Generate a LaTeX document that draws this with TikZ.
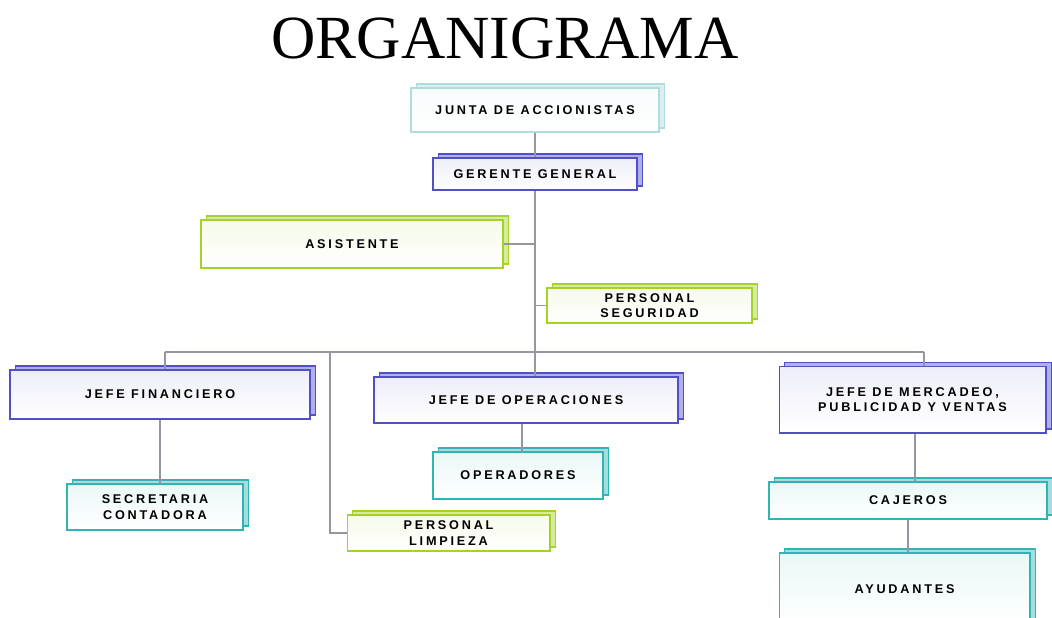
\documentclass[tikz,border=0pt]{standalone}
\usepackage{fontspec}
\setmainfont{Liberation Serif}
\newfontfamily\bxfont[LetterSpace=22]{Liberation Sans}
\usetikzlibrary{shadows}
\definecolor{cblue}{RGB}{80,80,200}
\definecolor{cgreen}{RGB}{165,210,40}
\definecolor{cteal}{RGB}{50,180,180}
\definecolor{ccyan}{RGB}{175,220,220}
\definecolor{cline}{RGB}{150,150,160}
\tikzset{
  orgbox/.style={draw=#1, line width=1pt, top color=#1!10, bottom color=white,
    general shadow={shadow xshift=4pt, shadow yshift=3pt, fill=#1!45!white, draw=#1, line width=1pt},
    inner sep=1pt, align=center, font=\bxfont\bfseries\fontsize{9.5}{11.5}\selectfont, text=black},
  conn/.style={draw=cline, line width=1.1pt}
}
\begin{document}
\begin{tikzpicture}[x=0.75pt, y=-0.75pt]
\useasboundingbox (0,0) rectangle (1052,617);
\node[font=\fontsize{46}{50}\selectfont] (title) at (505,38) {ORGANIGRAMA};

\node[orgbox=ccyan, minimum width=186pt, minimum height=33pt] (junta) at (535,110) {JUNTA DE ACCIONISTAS};
\node[orgbox=cblue, minimum width=153pt, minimum height=24pt] (gerente) at (535,174) {GERENTE GENERAL};
\node[orgbox=cgreen, minimum width=226.5pt, minimum height=36pt] (asistente) at (352,244) {ASISTENTE};
\node[orgbox=cgreen, minimum width=153.75pt, minimum height=26.25pt] (seguridad) at (649.5,305.5) {PERSONAL\\SEGURIDAD};
\node[orgbox=cblue, minimum width=225pt, minimum height=36.75pt] (financiero) at (160,394.5) {JEFE FINANCIERO};
\node[orgbox=cblue, minimum width=228pt, minimum height=34.5pt] (operaciones) at (526,400) {JEFE DE OPERACIONES};
\node[orgbox=cblue, minimum width=200pt, minimum height=50pt] (mercadeo) at (912.5,399.5) {JEFE DE MERCADEO,\\PUBLICIDAD Y VENTAS};
\node[orgbox=cteal, minimum width=132pt, minimum height=34.5pt] (secretaria) at (155,507) {SECRETARIA\\CONTADORA};
\node[orgbox=cteal, minimum width=127.5pt, minimum height=35.25pt] (operadores) at (518,475.5) {OPERADORES};
\node[orgbox=cgreen, minimum width=152pt, minimum height=27pt] (limpieza) at (448.5,533) {PERSONAL\\LIMPIEZA};
\node[orgbox=cteal, minimum width=208.5pt, minimum height=27.75pt] (cajeros) at (908,500.5) {CAJEROS};
\node[orgbox=cteal, minimum width=188pt, minimum height=54pt] (ayudantes) at (904.5,589) {AYUDANTES};

\coordinate (trunk) at (535,352);
\coordinate (bfin) at (165,352);
\coordinate (blim) at (330,352);
\coordinate (bmer) at (924,352);

\draw[conn] (junta.south) -- (gerente.north);
\draw[conn] (gerente.south) -- (trunk);
\draw[conn] (asistente.east) -- (asistente.east -| trunk);
\draw[conn] (seguridad.west) -- (seguridad.west -| trunk);
\draw[conn] (bfin) -- (bmer);
\draw[conn] (bfin) -- (bfin |- financiero.north);
\draw[conn] (blim) |- (limpieza.west);
\draw[conn] (trunk) -- (trunk |- operaciones.north);
\draw[conn] (bmer) -- (bmer |- mercadeo.north);
\draw[conn] (financiero.south) -- (financiero.south |- secretaria.north);
\draw[conn] ([xshift=-3pt]operaciones.south) -- ([xshift=-3pt]operaciones.south |- operadores.north);
\draw[conn] ([xshift=2pt]mercadeo.south) -- ([xshift=2pt]mercadeo.south |- cajeros.north);
\draw[conn] (cajeros.south) -- (cajeros.south |- ayudantes.north);
\end{tikzpicture}
\end{document}
